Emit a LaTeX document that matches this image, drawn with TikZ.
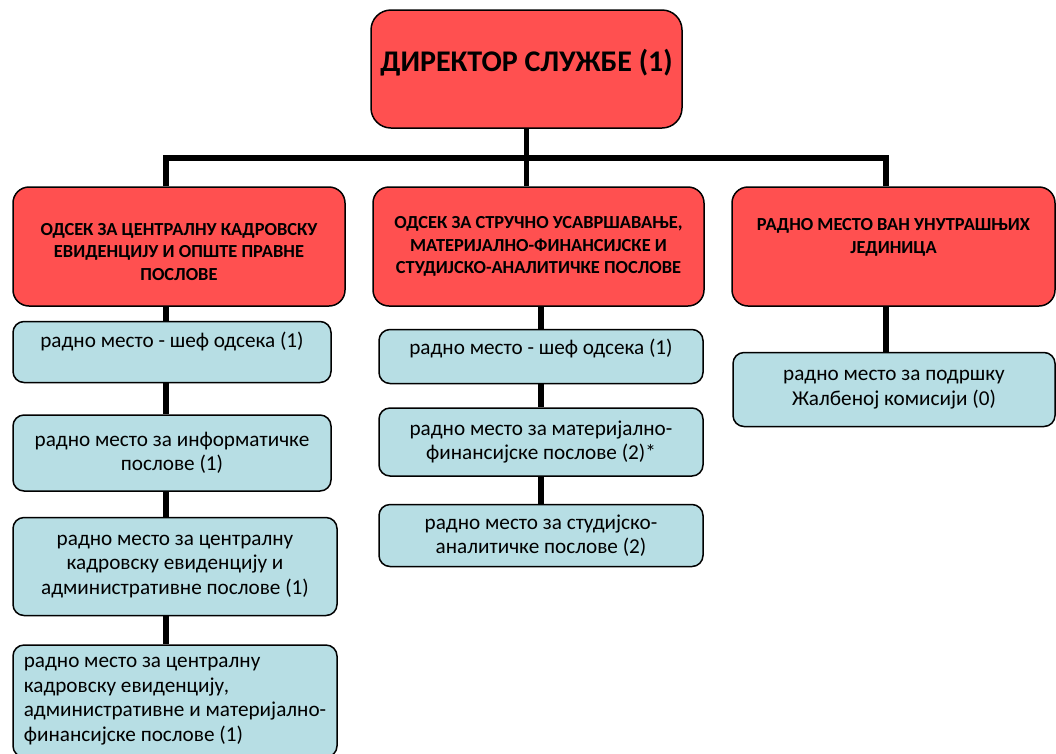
\documentclass[tikz,border=0pt]{standalone}
\usepackage{fontspec}
\setmainfont{Carlito}
\usetikzlibrary{positioning}
\definecolor{unitred}{RGB}{255,80,80}
\definecolor{postblue}{RGB}{183,222,228}
\tikzset{
	unit/.style = {draw=black, line width=1.5, fill=unitred, rounded corners=16, align=center, inner sep=0, font=\bfseries\fontsize{18.4}{22.5}\selectfont},
	post/.style = {draw=black, line width=1.5, fill=postblue, rounded corners=11, align=center, inner sep=0, font=\fontsize{21.2}{24.5}\selectfont},
	link/.style = {draw=black, line width=5.5}
}
\begin{document}
\begin{tikzpicture}[x=1pt, y=-1pt]
	\useasboundingbox (0,0) rectangle (1056,753);
	
	\node [unit, minimum width=311, minimum height=118, rounded corners=20, text depth=18, font=\bfseries\fontsize{30}{34}\selectfont] (dir) at (526.5,69) {ДИРЕКТОР СЛУЖБЕ (1)};
	
	\node [unit, minimum width=332, minimum height=119, text height=68] (o1) at (179,246.5) {ОДСЕК ЗА ЦЕНТРАЛНУ КАДРОВСКУ\\ЕВИДЕНЦИЈУ И ОПШТЕ ПРАВНЕ\\ПОСЛОВЕ};
	\node [unit, minimum width=331, minimum height=119] (o2) at (538.5,246.5) {ОДСЕК ЗА СТРУЧНО УСАВРШАВАЊЕ,\\МАТЕРИЈАЛНО-ФИНАНСИЈСКЕ И\\СТУДИЈСКО-АНАЛИТИЧКЕ ПОСЛОВЕ};
	\node [unit, minimum width=323, minimum height=119, text depth=21] (o3) at (893.5,246.5) {РАДНО МЕСТО ВАН УНУТРАШЊИХ\\ЈЕДИНИЦА};
	
	\node [post, minimum width=318, minimum height=61, text depth=25.5, below right=14pt and 0pt of o1.south west] (l1) {радно место - шеф одсека (1)};
	\node [post, minimum width=318, minimum height=76, below right=31pt and 0pt of l1.south west] (l2) {радно место за информатичке\\послове (1)};
	\node [post, minimum width=324, minimum height=98, below right=25pt and 0pt of l2.south west] (l3) {радно место за централну\\кадровску евиденцију и\\административне послове (1)};
	\node [post, minimum width=324, minimum height=112, align=left, below right=28pt and 0pt of l3.south west] (l4) {радно место за централну\\кадровску евиденцију,\\административне и материјално-\\финансијске послове (1)};
	
	\node [post, minimum width=324, minimum height=54, text depth=20.5, below right=22pt and 6pt of o2.south west] (m1) {радно место - шеф одсека (1)};
	\node [post, minimum width=324, minimum height=68, below=23pt of m1] (m2) {радно место за материјално-\\финансијске послове (2)*};
	\node [post, minimum width=324, minimum height=62, below=27pt of m2] (m3) {радно место за студијско-\\аналитичке послове (2)};
	
	\node [post, minimum width=322, minimum height=74, below right=45pt and 1pt of o3.south west] (r1) {радно место за подршку\\Жалбеној комисији (0)};
	
	\coordinate (bar west) at (166,158);
	\coordinate (bar east) at (886,158);
	\draw [link] (bar west |- o1.north) -- (bar west) -- (bar east) -- (bar east |- o3.north);
	\draw [link] (dir.south) -- (dir.south |- o2.north);
	\draw [link] (bar west |- o1.south) -- (bar west |- l1.north);
	\draw [link] (bar west |- l1.south) -- (bar west |- l2.north);
	\draw [link] (bar west |- l2.south) -- (bar west |- l3.north);
	\draw [link] (bar west |- l3.south) -- (bar west |- l4.north);
	\draw [link] (m1.north |- o2.south) -- (m1.north);
	\draw [link] (m1) -- (m2);
	\draw [link] (m2) -- (m3);
	\draw [link] (bar east |- o3.south) -- (bar east |- r1.north);
\end{tikzpicture}
\end{document}
